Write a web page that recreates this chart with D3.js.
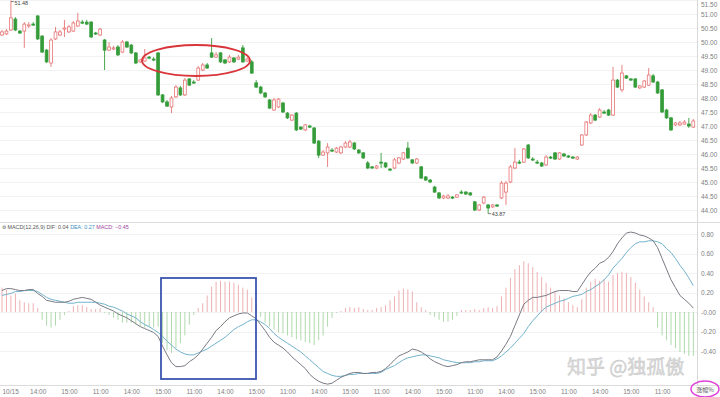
<!DOCTYPE html>
<html lang="zh">
<head>
<meta charset="utf-8">
<title>K线 + MACD</title>
<script src="https://cdn.jsdelivr.net/npm/d3@7"></script>
<style>
  body { margin: 0; background: #fff; }
  svg { display: block; font-family: "Liberation Sans", Arial, sans-serif; }
</style>
</head>
<body>
<script>
var w = 720, h = 397;
var plotRight = 697;

// candles (price)
var openP = [50.25,50.29,50.43,50.82,50.39,50.39,50.57,50.64,50.93,50.21,
  49.71,49.25,50.11,50.25,50.46,50.36,50.39,50.57,50.71,50.71,
  50.71,50.32,50.25,50.07,49.71,49.75,49.82,49.64,50.00,49.89,
  49.61,49.29,49.32,49.46,49.39,49.61,48.11,47.86,47.68,48.04,
  48.36,48.11,48.68,48.57,48.64,49.00,49.18,49.61,49.46,49.61,
  49.36,49.29,49.43,49.39,49.79,49.32,49.29,48.54,48.39,48.18,
  47.93,47.57,47.68,47.82,47.46,47.21,47.46,46.96,46.86,47.00,
  46.93,46.46,45.96,46.04,46.14,46.07,46.04,46.25,46.25,46.39,
  46.14,46.04,45.68,45.54,45.50,45.71,45.68,45.46,45.50,45.68,
  45.82,46.21,45.79,45.68,45.54,45.18,45.07,44.82,44.61,44.43,
  44.43,44.46,44.46,44.64,44.64,44.61,44.29,44.00,44.25,44.18,
  44.11,44.18,44.43,44.64,45.00,45.50,45.71,45.71,46.32,45.82,
  45.71,45.68,45.61,45.89,46.04,45.82,46.00,45.93,45.89,45.82,
  46.32,46.68,47.11,47.39,47.32,47.50,47.57,47.39,48.64,48.29,
  48.79,48.68,48.68,48.36,48.39,48.46,48.79,48.57,48.29,47.57,
  47.29,47.04,47.04,47.07,47.07,46.96];
var closeP = [50.36,50.39,50.86,50.43,50.32,50.64,50.61,50.61,50.11,49.64,
  49.29,50.07,50.36,50.36,50.50,50.54,50.68,50.75,50.68,50.64,
  50.18,50.29,50.46,49.71,49.82,49.79,49.54,50.00,49.82,49.61,
  49.25,49.36,49.43,49.43,49.36,48.11,47.86,47.71,48.00,48.39,
  48.11,48.64,48.46,48.54,49.07,49.18,49.07,49.46,49.54,49.29,
  49.25,49.46,49.29,49.46,49.29,49.39,48.89,48.39,48.18,48.04,
  47.64,47.93,47.96,47.50,47.29,47.39,46.86,46.89,47.04,46.96,
  46.39,45.96,46.07,46.25,46.11,46.21,46.25,46.39,46.43,46.18,
  46.04,45.86,45.50,45.50,45.57,45.68,45.54,45.43,45.79,45.86,
  46.04,45.86,45.68,45.82,45.14,45.07,45.00,44.64,44.43,44.50,
  44.50,44.43,44.54,44.61,44.57,44.54,44.00,44.18,44.46,44.07,
  44.18,44.14,44.96,44.96,45.54,45.71,45.68,46.18,45.86,45.79,
  45.68,45.57,45.89,45.86,45.82,46.04,45.93,45.89,45.86,45.89,
  46.68,47.14,47.39,47.21,47.57,47.46,47.39,48.64,48.39,48.89,
  48.71,48.64,48.39,48.43,48.61,48.82,48.57,48.18,47.50,47.29,
  46.86,47.11,47.11,47.14,47.00,47.18];
var highP = [50.43,50.46,51.48,50.89,50.43,50.71,50.71,50.71,50.96,50.25,
  49.75,50.14,50.54,50.43,50.79,50.61,50.75,51.04,50.79,50.79,
  50.75,50.36,50.50,50.11,50.00,49.86,49.89,50.07,50.04,49.93,
  49.64,49.39,49.75,49.50,49.46,49.64,48.14,47.93,48.07,48.46,
  48.43,48.71,48.71,48.64,49.14,49.25,49.25,50.14,49.64,49.64,
  49.39,49.54,49.46,49.54,49.89,49.46,49.36,48.64,48.43,48.21,
  47.96,48.00,48.00,47.86,47.50,47.43,47.50,47.00,47.07,47.04,
  46.96,46.50,46.14,46.39,46.21,46.25,46.29,46.46,46.50,46.43,
  46.18,46.07,45.75,45.57,45.61,46.04,45.71,45.50,45.86,45.89,
  46.07,46.43,45.82,45.86,45.57,45.21,45.11,44.86,44.64,44.54,
  44.57,44.50,44.57,44.71,44.68,44.64,44.32,44.21,44.50,44.21,
  44.21,44.21,45.04,45.04,45.61,46.21,45.79,46.21,46.36,45.89,
  45.79,45.71,45.96,45.93,46.07,46.07,46.04,45.96,45.93,45.93,
  46.71,47.18,47.46,47.43,47.64,47.57,47.61,49.11,48.68,49.18,
  48.82,48.71,48.71,48.46,48.64,49.07,48.86,48.61,48.32,47.61,
  47.32,47.14,47.18,47.21,47.29,47.25];
var lowP = [50.21,50.25,50.39,50.39,50.29,49.79,50.50,50.57,50.07,49.61,
  49.25,49.11,50.07,50.21,50.18,50.32,50.36,50.54,50.64,50.61,
  50.14,50.25,50.21,49.00,49.68,49.71,49.50,49.61,49.79,49.57,
  49.21,49.25,49.29,49.39,49.32,48.07,47.82,47.68,47.46,48.00,
  48.07,48.07,48.43,48.50,48.61,48.96,49.04,49.43,49.43,49.25,
  49.21,49.25,49.25,49.36,49.25,49.29,48.86,48.36,48.14,48.00,
  47.61,47.54,47.64,47.46,47.25,47.18,46.82,46.86,46.82,46.93,
  46.36,45.86,45.93,45.54,46.07,46.04,46.00,46.21,46.21,46.14,
  46.00,45.82,45.46,45.46,45.46,45.50,45.50,45.39,45.46,45.64,
  45.79,45.82,45.64,45.64,45.11,45.04,44.96,44.61,44.39,44.39,
  44.39,44.39,44.43,44.57,44.54,44.50,43.96,43.96,44.21,43.87,
  44.07,44.11,44.39,44.18,44.96,45.46,45.64,45.68,45.82,45.75,
  45.64,45.54,45.57,45.82,45.79,45.79,45.89,45.86,45.82,45.79,
  46.29,46.64,47.07,47.18,47.29,47.43,47.36,47.36,48.36,48.21,
  48.68,48.61,48.36,48.32,48.36,48.43,48.54,48.14,47.46,47.25,
  46.82,47.00,47.00,47.04,46.93,46.93];

// MACD(12,26,9)
var dif = [0.22,0.24,0.24,0.23,0.22,0.22,0.23,0.23,0.19,0.16,
  0.12,0.11,0.10,0.10,0.10,0.11,0.13,0.14,0.15,0.14,
  0.13,0.10,0.07,0.05,0.03,0.01,-0.02,-0.04,-0.06,-0.09,
  -0.12,-0.15,-0.17,-0.19,-0.21,-0.25,-0.35,-0.44,-0.52,-0.56,
  -0.56,-0.55,-0.51,-0.48,-0.44,-0.38,-0.32,-0.26,-0.19,-0.15,
  -0.10,-0.06,-0.04,-0.02,-0.01,-0.01,-0.04,-0.07,-0.13,-0.19,
  -0.26,-0.31,-0.34,-0.37,-0.41,-0.46,-0.50,-0.54,-0.58,-0.64,
  -0.68,-0.71,-0.73,-0.74,-0.73,-0.70,-0.67,-0.65,-0.63,-0.62,
  -0.62,-0.63,-0.63,-0.62,-0.62,-0.61,-0.58,-0.54,-0.49,-0.45,
  -0.43,-0.41,-0.38,-0.39,-0.41,-0.44,-0.48,-0.51,-0.53,-0.55,
  -0.56,-0.55,-0.54,-0.52,-0.51,-0.51,-0.50,-0.49,-0.49,-0.49,
  -0.49,-0.46,-0.40,-0.33,-0.25,-0.14,-0.03,0.08,0.12,0.15,
  0.15,0.16,0.17,0.19,0.21,0.22,0.22,0.22,0.21,0.21,
  0.28,0.35,0.41,0.45,0.50,0.52,0.56,0.62,0.70,0.76,
  0.81,0.82,0.81,0.79,0.78,0.76,0.73,0.66,0.55,0.44,
  0.33,0.25,0.17,0.13,0.09,0.04];
var dea = [0.17,0.18,0.19,0.21,0.21,0.22,0.22,0.22,0.21,0.18,
  0.15,0.13,0.12,0.11,0.10,0.09,0.09,0.10,0.10,0.10,
  0.10,0.10,0.09,0.08,0.06,0.05,0.03,0.01,-0.02,-0.04,
  -0.06,-0.10,-0.13,-0.15,-0.18,-0.21,-0.25,-0.30,-0.34,-0.38,
  -0.41,-0.43,-0.44,-0.44,-0.42,-0.40,-0.38,-0.35,-0.32,-0.29,
  -0.26,-0.22,-0.18,-0.15,-0.13,-0.10,-0.08,-0.08,-0.10,-0.13,
  -0.17,-0.22,-0.26,-0.29,-0.32,-0.35,-0.38,-0.41,-0.45,-0.49,
  -0.53,-0.57,-0.61,-0.63,-0.65,-0.66,-0.66,-0.65,-0.64,-0.64,
  -0.63,-0.63,-0.63,-0.63,-0.63,-0.62,-0.59,-0.57,-0.55,-0.52,
  -0.49,-0.47,-0.46,-0.45,-0.44,-0.44,-0.45,-0.46,-0.47,-0.49,
  -0.50,-0.51,-0.52,-0.52,-0.52,-0.52,-0.51,-0.51,-0.50,-0.50,
  -0.50,-0.48,-0.45,-0.41,-0.37,-0.32,-0.27,-0.22,-0.15,-0.09,
  -0.04,0.01,0.05,0.07,0.09,0.11,0.12,0.14,0.16,0.17,
  0.18,0.21,0.23,0.26,0.29,0.33,0.38,0.45,0.50,0.55,
  0.61,0.66,0.70,0.72,0.72,0.73,0.73,0.72,0.70,0.65,
  0.61,0.55,0.48,0.42,0.35,0.27];
var macd = [0.25,0.23,0.17,0.19,0.12,0.10,0.09,0.09,0.04,-0.08,
  -0.14,-0.16,-0.14,-0.08,-0.03,0.01,0.06,0.07,0.07,0.05,
  0.03,0.03,0.04,-0.01,-0.03,-0.06,-0.08,-0.11,-0.11,-0.11,
  -0.13,-0.15,-0.16,-0.16,-0.16,-0.15,-0.32,-0.39,-0.42,-0.37,
  -0.32,-0.24,-0.13,-0.03,0.04,0.09,0.17,0.26,0.31,0.32,
  0.31,0.31,0.30,0.28,0.25,0.23,0.15,0.07,-0.05,-0.11,
  -0.15,-0.18,-0.21,-0.22,-0.24,-0.26,-0.28,-0.29,-0.31,-0.32,
  -0.34,-0.29,-0.24,-0.15,-0.06,-0.01,0.01,0.04,0.05,0.04,
  0.05,0.03,0.02,0.02,0.04,0.05,0.07,0.12,0.16,0.22,
  0.24,0.23,0.21,0.10,0.05,0.02,-0.03,-0.05,-0.08,-0.10,
  -0.10,-0.08,-0.04,0.02,0.02,0.02,0.03,0.02,0.04,0.05,
  0.04,0.06,0.16,0.25,0.35,0.44,0.48,0.52,0.50,0.46,
  0.41,0.36,0.30,0.25,0.21,0.17,0.14,0.10,0.07,0.05,
  0.13,0.25,0.31,0.34,0.32,0.34,0.31,0.38,0.40,0.41,
  0.40,0.36,0.30,0.23,0.16,0.10,0.05,-0.16,-0.24,-0.29,
  -0.34,-0.37,-0.41,-0.43,-0.45,-0.45];

var priceTicks = [51.5,51,50.5,50,49.5,49,48.5,48,47.5,47,46.5,46,45.5,45,44.5,44];
var macdTicks = [0.8,0.6,0.4,0.2,0,-0.2,-0.4];
var macdTickText = ["0.80","0.60","0.40","0.20","-0.00","-0.20","-0.40"];
var timeIdx = [0,8,15,22,29,36,43,50,57,64,71,78,85,92,99,106,113,120,127,134,141,148];
var timeLabels = ["10/15","14:00","15:00","11:00","14:00","15:00","11:00","14:00","15:00","11:00","14:00",
  "15:00","11:00","14:00","15:00","11:00","14:00","15:00","11:00","14:00","15:00","11:00"];

var n = openP.length;
var candles = d3.range(n).map(function(i) {
  return {i: i, o: openP[i], c: closeP[i], hi: highP[i], lo: lowP[i], dif: dif[i], dea: dea[i], m: macd[i]};
});

var upColor = "#e67474", downColor = "#359c3a";

var svg = d3.select("body").append("svg")
  .attr("width", w)
  .attr("height", h);

svg.append("rect").attr("width", w).attr("height", h).attr("fill", "#fff");

var xScale = d3.scaleLinear().domain([0, n - 1]).range([2, 693.3]);
var yPrice = d3.scaleLinear().domain([44, 51.5]).range([210, 0]);
var yMacd = d3.scaleLinear().domain([-0.4, 0.8]).range([351, 234]);

// grid lines
svg.append("g").selectAll("line")
  .data(priceTicks)
  .enter()
  .append("line")
  .attr("x1", 0).attr("x2", plotRight)
  .attr("y1", function(d) { return Math.round(yPrice(d)) + 0.5; })
  .attr("y2", function(d) { return Math.round(yPrice(d)) + 0.5; })
  .attr("stroke", "#f2f2f2");

svg.append("g").selectAll("line")
  .data(macdTicks)
  .enter()
  .append("line")
  .attr("x1", 0).attr("x2", plotRight)
  .attr("y1", function(d) { return Math.round(yMacd(d)) + 0.5; })
  .attr("y2", function(d) { return Math.round(yMacd(d)) + 0.5; })
  .attr("stroke", "#f2f2f2");

// frame lines
svg.append("line").attr("x1", plotRight + 0.5).attr("x2", plotRight + 0.5)
  .attr("y1", 0).attr("y2", 386).attr("stroke", "#d8d8d8");
svg.append("line").attr("x1", 0).attr("x2", w).attr("y1", 222.5).attr("y2", 222.5).attr("stroke", "#dcdcdc");
svg.append("line").attr("x1", 0).attr("x2", w).attr("y1", 385.5).attr("y2", 385.5).attr("stroke", "#dcdcdc");

// candle wicks
svg.append("g").selectAll("line")
  .data(candles)
  .enter()
  .append("line")
  .attr("x1", function(d) { return xScale(d.i); })
  .attr("x2", function(d) { return xScale(d.i); })
  .attr("y1", function(d) { return yPrice(d.hi); })
  .attr("y2", function(d) { return yPrice(d.lo); })
  .attr("stroke", function(d) { return d.c >= d.o ? upColor : downColor; })
  .attr("stroke-width", 0.9);

// candle bodies
svg.append("g").selectAll("rect")
  .data(candles)
  .enter()
  .append("rect")
  .attr("x", function(d) { return xScale(d.i) - 1.4; })
  .attr("width", 2.8)
  .attr("y", function(d) { return yPrice(Math.max(d.o, d.c)); })
  .attr("height", function(d) { return Math.max(1, Math.abs(yPrice(d.o) - yPrice(d.c))); })
  .attr("fill", function(d) { return d.c >= d.o ? "#fff" : downColor; })
  .attr("stroke", function(d) { return d.c >= d.o ? upColor : downColor; })
  .attr("stroke-width", 0.8);

// high / low markers
var hiIdx = d3.maxIndex(highP), loIdx = d3.minIndex(lowP);
svg.append("line")
  .attr("x1", xScale(hiIdx)).attr("x2", xScale(hiIdx) + 3)
  .attr("y1", yPrice(highP[hiIdx]) + 1).attr("y2", yPrice(highP[hiIdx]) + 1)
  .attr("stroke", "#555").attr("stroke-width", 0.7);
svg.append("text")
  .attr("x", xScale(hiIdx) + 3.5).attr("y", yPrice(highP[hiIdx]) + 4)
  .attr("font-size", "5.5px").attr("fill", "#444")
  .text(d3.format(".2f")(highP[hiIdx]));
svg.append("line")
  .attr("x1", xScale(loIdx)).attr("x2", xScale(loIdx) + 3)
  .attr("y1", yPrice(lowP[loIdx])).attr("y2", yPrice(lowP[loIdx]))
  .attr("stroke", "#555").attr("stroke-width", 0.7);
svg.append("text")
  .attr("x", xScale(loIdx) + 3.5).attr("y", yPrice(lowP[loIdx]) + 2.5)
  .attr("font-size", "5.5px").attr("fill", "#444")
  .text(d3.format(".2f")(lowP[loIdx]));

// MACD histogram
svg.append("g").selectAll("line")
  .data(candles)
  .enter()
  .append("line")
  .attr("x1", function(d) { return xScale(d.i); })
  .attr("x2", function(d) { return xScale(d.i); })
  .attr("y1", yMacd(0))
  .attr("y2", function(d) { return yMacd(d.m); })
  .attr("stroke", function(d) { return d.m >= 0 ? "#eeb0b2" : "#afd9ac"; })
  .attr("stroke-width", 1);

// DIF / DEA
var difLine = d3.line()
  .x(function(d) { return xScale(d.i); })
  .y(function(d) { return yMacd(d.dif); });
var deaLine = d3.line()
  .x(function(d) { return xScale(d.i); })
  .y(function(d) { return yMacd(d.dea); });

svg.append("path").datum(candles)
  .attr("d", deaLine).attr("fill", "none").attr("stroke", "#72b2cc").attr("stroke-width", 1);
svg.append("path").datum(candles)
  .attr("d", difLine).attr("fill", "none").attr("stroke", "#7a7a84").attr("stroke-width", 1);

// right axes
var priceAxis = d3.axisRight(yPrice)
  .tickValues(priceTicks)
  .tickSize(0)
  .tickPadding(4)
  .tickFormat(d3.format(".2f"));
svg.append("g")
  .attr("transform", "translate(" + plotRight + ",0)")
  .call(priceAxis)
  .call(function(g) { g.select(".domain").remove(); })
  .selectAll("text")
  .attr("font-size", "6.5px")
  .attr("font-family", "Liberation Sans, Arial, sans-serif")
  .attr("fill", "#808080")
  .attr("dy", function(d) { return d === 51.5 ? "0.95em" : "0.32em"; });

var macdAxis = d3.axisRight(yMacd)
  .tickValues(macdTicks)
  .tickSize(0)
  .tickPadding(4)
  .tickFormat(function(d, i) { return macdTickText[i]; });
svg.append("g")
  .attr("transform", "translate(" + plotRight + ",0)")
  .call(macdAxis)
  .call(function(g) { g.select(".domain").remove(); })
  .selectAll("text")
  .attr("font-size", "6.5px")
  .attr("font-family", "Liberation Sans, Arial, sans-serif")
  .attr("fill", "#808080");

// time axis
var timeAxis = d3.axisBottom(xScale)
  .tickValues(timeIdx)
  .tickSize(0)
  .tickPadding(3)
  .tickFormat(function(d, i) { return timeLabels[i]; });
svg.append("g")
  .attr("transform", "translate(0,386)")
  .call(timeAxis)
  .call(function(g) { g.select(".domain").remove(); })
  .selectAll("text")
  .attr("font-size", "6.5px")
  .attr("font-family", "Liberation Sans, Arial, sans-serif")
  .attr("fill", "#808080")
  .attr("text-anchor", function(d, i) { return i === 0 ? "start" : "middle"; });

// MACD header
var header = svg.append("text")
  .attr("x", 2).attr("y", 228.5)
  .attr("font-size", "5.4px");
header.append("tspan").attr("fill", "#666").text("⚙ ");
header.append("tspan").attr("fill", "#555").text("MACD(12,26,9) DIF: " + d3.format(".2f")(dif[n - 1]) + " ");
header.append("tspan").attr("fill", "#3d8fc0").text("DEA: " + d3.format(".2f")(dea[n - 1]) + " ");
header.append("tspan").attr("fill", "#a0409c").text("MACD: " + d3.format(".2f")(macd[n - 1]));

// annotations
svg.append("ellipse")
  .attr("cx", 196).attr("cy", 60.5).attr("rx", 54).attr("ry", 15.5)
  .attr("fill", "none").attr("stroke", "#d9363a").attr("stroke-width", 1.8);

svg.append("rect")
  .attr("x", 161).attr("y", 278).attr("width", 95).attr("height", 101)
  .attr("fill", "none").attr("stroke", "#3c55b0").attr("stroke-width", 1.8);

svg.append("text")
  .attr("x", 567).attr("y", 374)
  .attr("font-family", "Noto Sans CJK SC, sans-serif")
  .attr("font-size", "19px")
  .attr("fill", "#dadada")
  .attr("stroke", "#c4c4c4")
  .attr("stroke-width", 0.4)
  .text("知乎 @独孤傲");

svg.append("ellipse")
  .attr("cx", 705).attr("cy", 389).attr("rx", 14).attr("ry", 8)
  .attr("fill", "none").attr("stroke", "#e040d8").attr("stroke-width", 1.5);
svg.append("text")
  .attr("x", 705).attr("y", 391.5)
  .attr("text-anchor", "middle")
  .attr("font-family", "Noto Sans CJK SC, sans-serif")
  .attr("font-size", "6px")
  .attr("fill", "#555")
  .text("涨幅%");
</script>
</body>
</html>
